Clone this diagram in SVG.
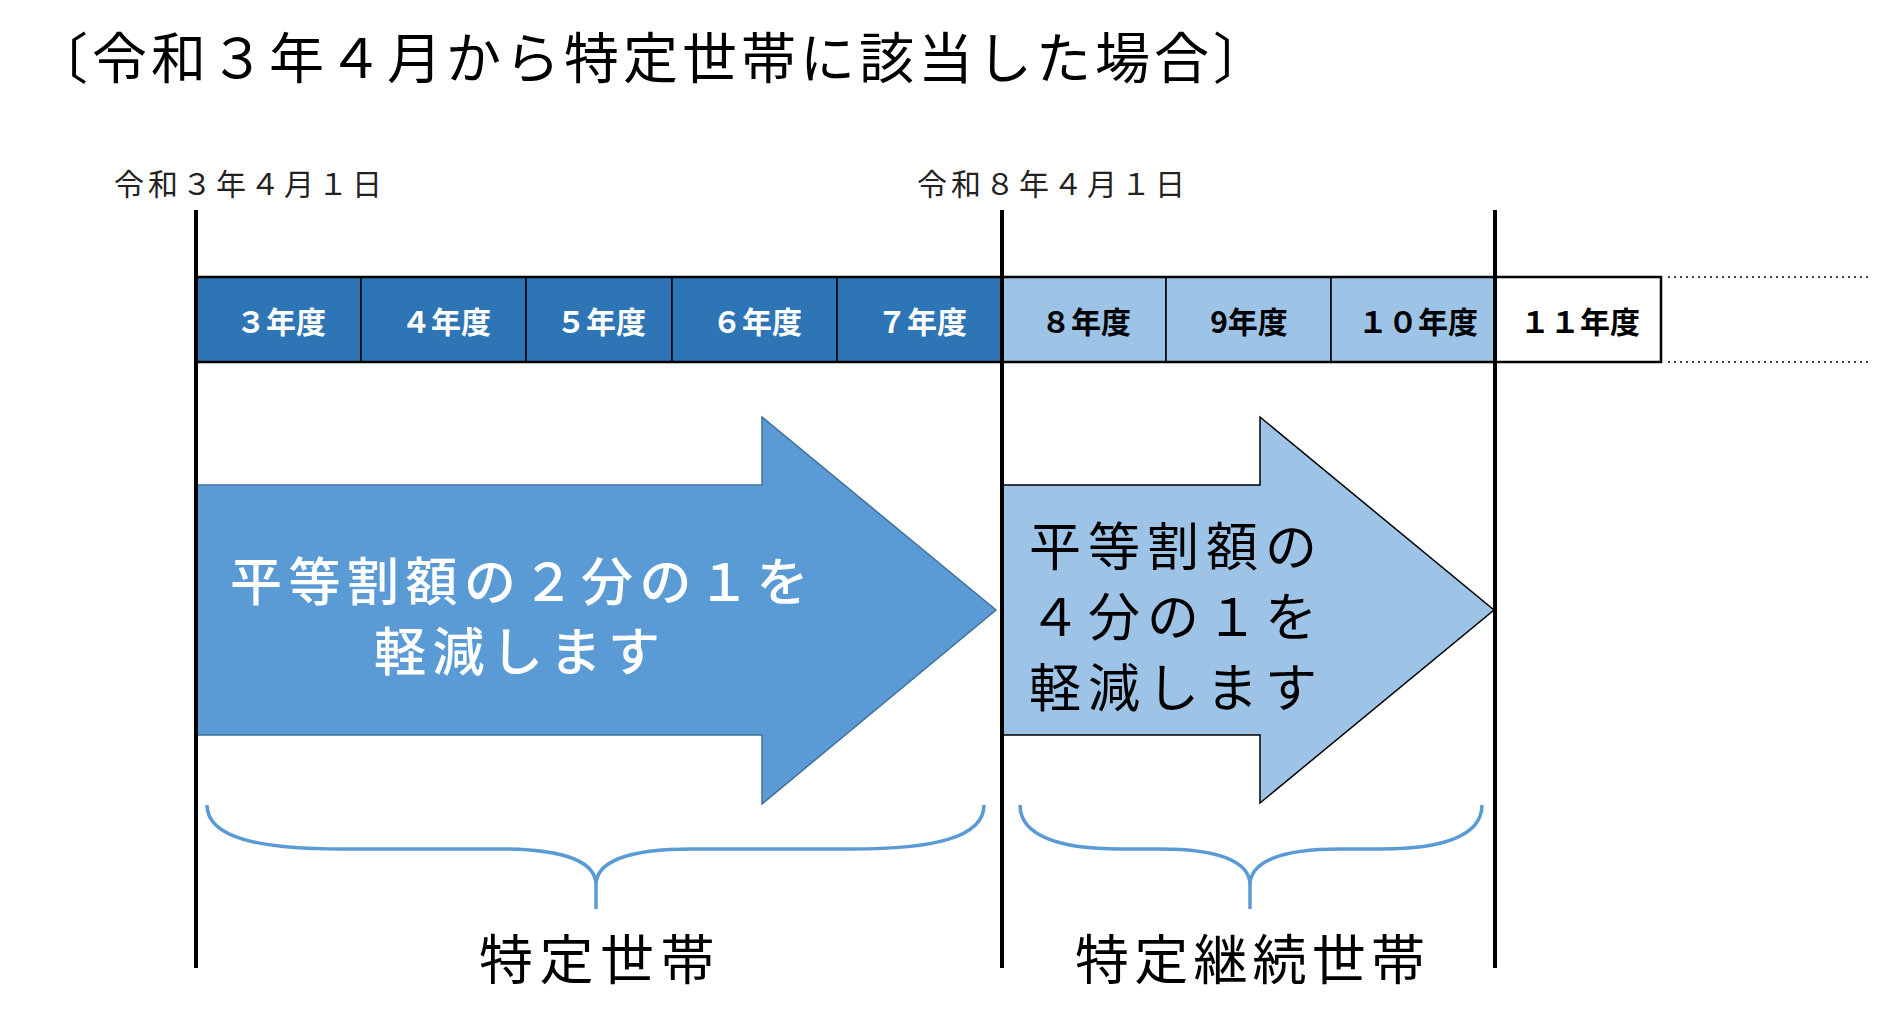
<svg xmlns="http://www.w3.org/2000/svg" width="1895" height="1023" viewBox="0 0 1895 1023">
<style>
text{font-family:"Noto Sans CJK JP","Noto Sans",sans-serif;}
.title{font-size:55px;letter-spacing:4px;fill:#000;}
.date{font-size:30px;letter-spacing:4px;fill:#222;}
.cell{stroke:#000;stroke-width:1.5;}
.dark{fill:#2E75B6;}
.light{fill:#9DC3E6;}
.white{fill:#fff;}
.ct{font-size:30px;font-weight:bold;text-anchor:middle;}
.ctw{fill:#fff;}
.ctb{fill:#000;}
.vline{stroke:#000;stroke-width:4;}
.dots{stroke:#444;stroke-width:2;stroke-dasharray:2 4;}
.brace{fill:none;stroke:#5B9BD5;stroke-width:3.5;}
.big{font-size:52px;letter-spacing:6.5px;font-weight:500;}
.mid{font-size:52px;letter-spacing:7px;fill:#000;}
.lbl{font-size:54px;fill:#000;}
</style>
<g id="title"><text class="title" x="33" y="78">〔令和３年４月から特定世帯に該当した場合〕</text></g>
<g id="date1"><text class="date" x="114" y="195">令和３年４月１日</text></g>
<g id="date2"><text class="date" x="917" y="195">令和８年４月１日</text></g>
<g id="bar">
<g id="cell3"><rect class="cell dark" x="196" y="277" width="165" height="85"/><text class="ct ctw" x="281" y="333">３年度</text></g>
<g id="cell4"><rect class="cell dark" x="361" y="277" width="165" height="85"/><text class="ct ctw" x="446" y="333">４年度</text></g>
<g id="cell5"><rect class="cell dark" x="526" y="277" width="146" height="85"/><text class="ct ctw" x="601" y="333">５年度</text></g>
<g id="cell6"><rect class="cell dark" x="672" y="277" width="165" height="85"/><text class="ct ctw" x="757" y="333">６年度</text></g>
<g id="cell7"><rect class="cell dark" x="837" y="277" width="165" height="85"/><text class="ct ctw" x="922" y="333">７年度</text></g>
<g id="cell8"><rect class="cell light" x="1002" y="277" width="164" height="85"/><text class="ct ctb" x="1086" y="333">８年度</text></g>
<g id="cell9"><rect class="cell light" x="1166" y="277" width="165" height="85"/><text class="ct ctb" x="1249" y="333">9年度</text></g>
<g id="cell10"><rect class="cell light" x="1331" y="277" width="164" height="85"/><text class="ct ctb" x="1418" y="333">１０年度</text></g>
<g id="cell11"><rect class="cell white" x="1495" y="277" width="166" height="85"/><text class="ct ctb" x="1580" y="333">１１年度</text></g>
<rect x="196" y="277" width="1465" height="85" fill="none" stroke="#000" stroke-width="2.5"/>
</g>
<g id="arrow1">
<polygon points="196,485 762,485 762,417 996,610 762,804 762,735 196,735" fill="#5B9BD5" stroke="#41719C" stroke-width="1.5"/>
<text class="big" fill="#fff" x="230" y="601">平等割額の２分の１を</text>
<text class="big" fill="#fff" x="374" y="671">軽減します</text>
</g>
<g id="arrow2">
<polygon points="1002,485 1260,485 1260,417 1494,610 1260,803 1260,735 1002,735" fill="#9DC3E6" stroke="#000" stroke-width="1.5"/>
<text class="mid" x="1029" y="566">平等割額の</text>
<text class="mid" x="1029" y="636">４分の１を</text>
<text class="mid" x="1029" y="707">軽減します</text>
</g>
<g id="brace1"><path class="brace" d="M 207 805 C 207 838, 260 849, 340 849 L 500 849 C 565 849, 596 862, 596 885 L 596 909 M 596 885 C 596 862, 627 849, 692 849 L 852 849 C 932 849, 984 838, 984 805"/></g>
<g id="brace2"><path class="brace" d="M 1020 805 C 1020 836, 1060 849, 1120 849 L 1160 849 C 1220 849, 1250 862, 1250 885 L 1250 909 M 1250 885 C 1250 862, 1280 849, 1340 849 L 1382 849 C 1442 849, 1482 836, 1482 805"/></g>
<g id="label1"><text class="lbl" x="479" y="980" letter-spacing="6.5">特定世帯</text></g>
<g id="label2"><text class="lbl" x="1075" y="980" letter-spacing="5.2">特定継続世帯</text></g>
<g id="connectors">
<line class="vline" x1="196" y1="210" x2="196" y2="968"/>
<line class="vline" x1="1002" y1="210" x2="1002" y2="968"/>
<line class="vline" x1="1495" y1="210" x2="1495" y2="968"/>
<line class="dots" x1="1668" y1="277" x2="1871" y2="277"/>
<line class="dots" x1="1668" y1="362" x2="1871" y2="362"/>
</g>
</svg>
